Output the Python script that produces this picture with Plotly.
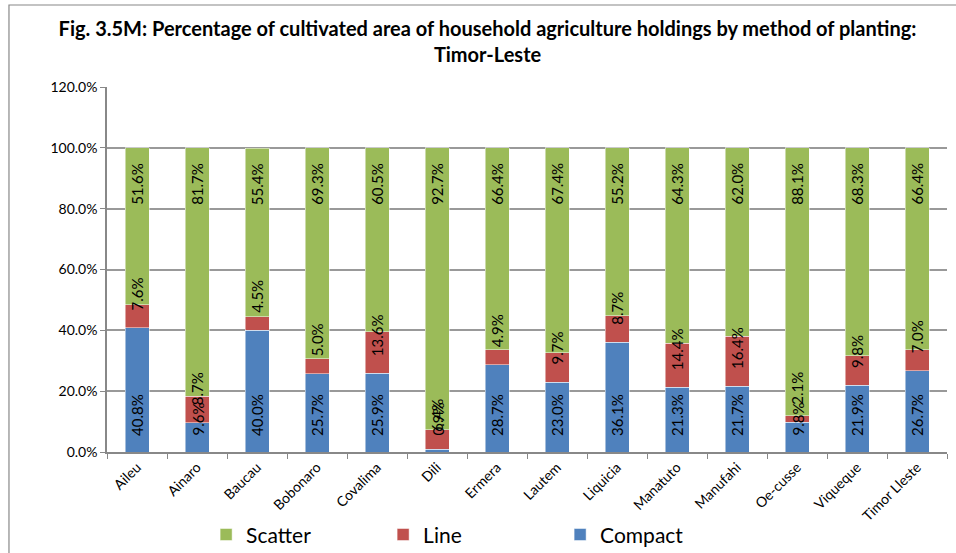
import plotly.graph_objects as go

categories = ["Aileu", "Ainaro", "Baucau", "Bobonaro", "Covalima", "Dili", "Ermera",
              "Lautem", "Liquicia", "Manatuto", "Manufahi", "Oe-cusse", "Viqueque", "Timor Lleste"]
compact = [40.8, 9.6, 40.0, 25.7, 25.9, 0.9, 28.7, 23.0, 36.1, 21.3, 21.7, 9.8, 21.9, 26.7]
line = [7.6, 8.7, 4.5, 5.0, 13.6, 6.4, 4.9, 9.7, 8.7, 14.4, 16.4, 2.1, 9.8, 7.0]
scatter = [51.6, 81.7, 55.4, 69.3, 60.5, 92.7, 66.4, 67.4, 55.2, 64.3, 62.0, 88.1, 68.3, 66.4]
y_ticks = [0, 20, 40, 60, 80, 100, 120]
y_tick_text = ["0.0%", "20.0%", "40.0%", "60.0%", "80.0%", "100.0%", "120.0%"]

FONT = "Lato, Carlito, Calibri, sans-serif"

fig = go.Figure()
series = [
    ("Compact", compact, "#4F81BD"),
    ("Line", line, "#C0504D"),
    ("Scatter", scatter, "#9BBB59"),
]
for name, vals, color in series:
    fig.add_trace(go.Bar(
        name=name, x=categories, y=vals,
        marker=dict(color=color, line=dict(color="rgba(255,255,255,0.6)", width=0.8)),
        hoverinfo="skip",
    ))

# data labels, placed from the data (Excel-like: compact/line at segment base, scatter at top)
annotations = []
lab_font = dict(family=FONT, size=15, color="#000000")
for i, cat in enumerate(categories):
    c, l, s = compact[i], line[i], scatter[i]
    annotations.append(dict(x=cat, y=0, xref="x", yref="y", text=f"{c:.1f}%",
                            textangle=-90, showarrow=False, xanchor="center",
                            yanchor="bottom", yshift=14, font=lab_font))
    annotations.append(dict(x=cat, y=c, xref="x", yref="y", text=f"{l:.1f}%",
                            textangle=-90, showarrow=False, xanchor="center",
                            yanchor="bottom", yshift=15, font=lab_font))
    annotations.append(dict(x=cat, y=c + l + s, xref="x", yref="y", text=f"{s:.1f}%",
                            textangle=-90, showarrow=False, xanchor="center",
                            yanchor="top", yshift=-13, font=lab_font))

fig.update_layout(
    barmode="stack", bargap=0.6,
    width=956, height=553,
    margin=dict(l=107, r=9, t=87, b=101, autoexpand=False),
    paper_bgcolor="white", plot_bgcolor="white",
    font=dict(family=FONT, color="#000000"),
    title=dict(
        text="<b>Fig. 3.5M: Percentage of cultivated area of household agriculture holdings by method of planting:<br>Timor-Leste</b>",
        x=0.51, xref="container", xanchor="center",
        y=0.935, yref="container", yanchor="middle",
        font=dict(family=FONT, size=20, color="#000000"),
    ),
    showlegend=True,
    legend=dict(
        orientation="h", traceorder="reversed",
        x=0.118, xanchor="left", y=-0.227, yanchor="middle",
        font=dict(family=FONT, size=21, color="#000000"),
        entrywidth=132, entrywidthmode="pixels",
        bgcolor="rgba(0,0,0,0)",
    ),
    xaxis=dict(
        type="category", tickangle=-45, tickson="boundaries",
        ticks="outside", ticklen=5, tickcolor="#888888",
        showline=True, linecolor="#888888", linewidth=1.5,
        showgrid=False, automargin=False,
        tickfont=dict(family=FONT, size=14, color="#000000"),
    ),
    yaxis=dict(
        range=[0, 120], tickvals=y_ticks, ticktext=y_tick_text,
        ticks="outside", ticklen=5, tickcolor="#888888",
        showline=True, linecolor="#888888", linewidth=1.5,
        showgrid=True, gridcolor="#999999", gridwidth=1.5,
        zeroline=False, automargin=False,
        tickfont=dict(family=FONT, size=14, color="#000000"),
    ),
    annotations=annotations,
    shapes=[dict(
        type="rect", xref="paper", yref="paper",
        x0=-0.1167, x1=1.05, y0=-0.35, y1=1.2247,
        line=dict(color="#888888", width=1.2), fillcolor="rgba(0,0,0,0)", layer="below",
    )],
)

fig.write_html("out.html", config={"displayModeBar": False},
               post_script="document.body.style.margin='0';")
